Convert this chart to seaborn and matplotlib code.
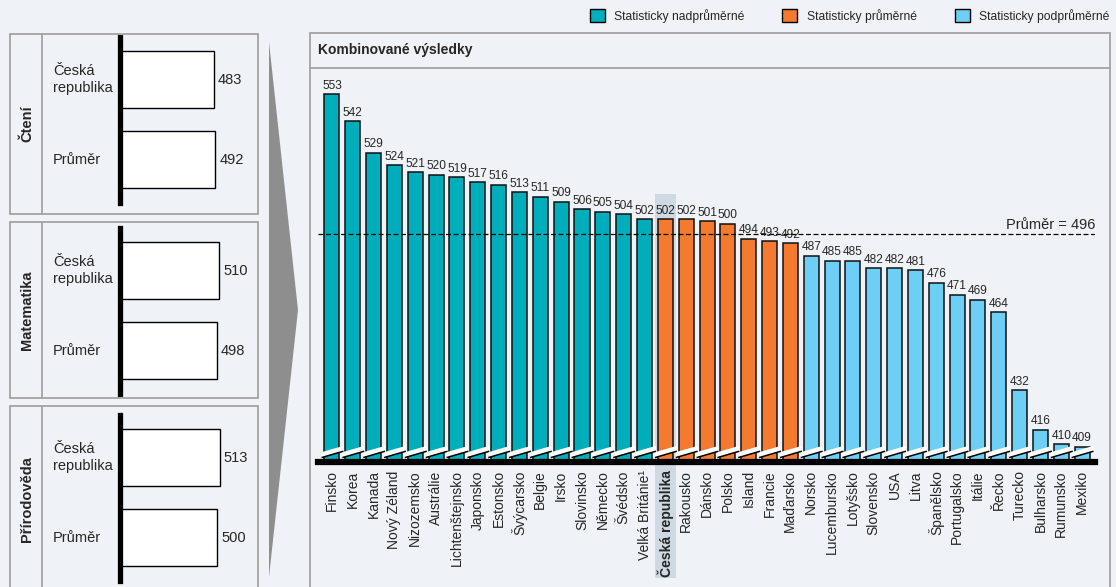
import pandas as pd
import matplotlib.pyplot as plt
import seaborn as sns
from matplotlib.patches import Rectangle, Polygon, Patch
from matplotlib.lines import Line2D

# Data
countries = ['Finsko', 'Korea', 'Kanada', 'Nový Zéland', 'Nizozemsko', 'Austrálie',
             'Lichtenštejnsko', 'Japonsko', 'Estonsko', 'Švýcarsko', 'Belgie', 'Irsko',
             'Slovinsko', 'Německo', 'Švédsko', 'Velká Británie\u00b9', 'Česká republika',
             'Rakousko', 'Dánsko', 'Polsko', 'Island', 'Francie', 'Maďarsko', 'Norsko',
             'Lucembursko', 'Lotyšsko', 'Slovensko', 'USA', 'Litva', 'Španělsko',
             'Portugalsko', 'Itálie', 'Řecko', 'Turecko', 'Bulharsko', 'Rumunsko', 'Mexiko']
scores = [553, 542, 529, 524, 521, 520, 519, 517, 516, 513, 511, 509, 506, 505, 504, 502,
          502, 502, 501, 500, 494, 493, 492, 487, 485, 485, 482, 482, 481, 476, 471, 469,
          464, 432, 416, 410, 409]
groups = ['Statisticky nadprůměrné'] * 16 + ['Statisticky průměrné'] * 7 + ['Statisticky podprůměrné'] * 14
oecd_mean = 496
highlight = 'Česká republika'

panel_names = ['Čtení', 'Matematika', 'Přírodověda']
panel_bars = ['Česká\nrepublika', 'Průměr']
cz_scores = [483, 510, 513]
avg_scores = [492, 498, 500]

palette = {'Statisticky nadprůměrné': '#00aebb',
           'Statisticky průměrné': '#f47a30',
           'Statisticky podprůměrné': '#6dcff6'}
bg = '#eff2f6'
frame = '#a3a3a3'

sns.set_theme(style='white')
plt.rcParams['font.family'] = ['Liberation Sans', 'DejaVu Sans']

W, H = 1116, 587
fig = plt.figure(figsize=(W / 100, H / 100), dpi=100, facecolor=bg)


def box(x0, y0, x1, y1):
    # pixel box -> figure fraction [left, bottom, width, height]
    return [x0 / W, 1 - y1 / H, (x1 - x0) / W, (y1 - y0) / H]


def frect(x0, y0, x1, y1, **kw):
    fig.patches.append(Rectangle((x0 / W, 1 - y1 / H), (x1 - x0) / W, (y1 - y0) / H,
                                 transform=fig.transFigure, **kw))


def fline(xs, ys, **kw):
    fig.lines.append(Line2D([x / W for x in xs], [1 - y / H for y in ys],
                            transform=fig.transFigure, **kw))


# ---- left panels ----
box_tops = [34, 222, 406]
box_bottoms = [214, 398, 600]
ax_tops = [37, 228, 415]
for k in range(3):
    frect(10, box_tops[k], 258, box_bottoms[k], facecolor='none', edgecolor=frame, lw=1.3)
    fline([42, 42], [box_tops[k], box_bottoms[k]], color=frame, lw=1.3)
    fig.text(27 / W, 1 - ((box_tops[k] + min(box_bottoms[k], 592)) / 2) / H, panel_names[k],
             rotation=90, ha='center', va='center', fontsize=10.5, fontweight='bold')

    pax = fig.add_axes(box(120, ax_tops[k], 258, ax_tops[k] + 166))
    pdf = pd.DataFrame({'label': panel_bars, 'score': [cz_scores[k], avg_scores[k]]})
    sns.barplot(data=pdf, x='score', y='label', orient='h', color='white',
                edgecolor='black', linewidth=1, width=0.71, saturation=1, ax=pax)
    pax.set_xlim(0, 711)
    pax.set_ylim(1.54, -0.53)
    pax.set_facecolor('none')
    pax.set_xlabel('')
    pax.set_ylabel('')
    pax.set_xticks([])
    pax.set_yticks([])
    for s in ['top', 'right', 'bottom']:
        pax.spines[s].set_visible(False)
    pax.spines['left'].set_linewidth(3.8)
    pax.spines['left'].set_color('black')
    for j, v in enumerate(pdf['score']):
        pax.text(v + 22, j, str(v), va='center', ha='left', fontsize=10.5)
        pax.text(-0.485, j, panel_bars[j], transform=pax.get_yaxis_transform(),
                 va='center', ha='left', fontsize=10.5, linespacing=1.25)

# chevron
fig.patches.append(Polygon([(269 / W, 1 - 42 / H), (298 / W, 1 - 310 / H), (269 / W, 1 - 577 / H)],
                           closed=True, transform=fig.transFigure, facecolor='#8e8e8e',
                           edgecolor='none'))

# ---- main panel ----
frect(310, 33, 1110, 620, facecolor='none', edgecolor=frame, lw=1.3)
fline([310, 1110], [68, 68], color=frame, lw=1.3)
fig.text(318 / W, 1 - 50 / H, 'Kombinované výsledky', fontsize=10, fontweight='bold',
         ha='left', va='center')

ax = fig.add_axes(box(318, 70, 1095, 462))
df = pd.DataFrame({'country': countries, 'score': scores, 'group': groups})
sns.barplot(data=df, x='country', y='score', hue='group', palette=palette, order=countries,
            dodge=False, width=0.72, edgecolor='#111111', linewidth=1.1, saturation=1,
            legend=False, ax=ax)
ylo, yhi = 402.8, 562.8
ax.set_ylim(ylo, yhi)
ax.set_xlim(-0.67, len(countries) - 1 + 0.62)
ax.set_facecolor('none')
ax.set_xlabel('')
ax.set_ylabel('')
ax.set_yticks([])
for s in ['top', 'right', 'left']:
    ax.spines[s].set_visible(False)
ax.spines['bottom'].set_linewidth(4.5)
ax.spines['bottom'].set_color('black')
ax.spines['bottom'].set_zorder(5)
ax.tick_params(axis='x', length=0, pad=6, labelsize=10, labelrotation=90)
for lab in ax.get_xticklabels():
    if lab.get_text() == highlight:
        lab.set_fontweight('bold')

# highlight behind Czech Republic
ci = countries.index(highlight)
ax.axvspan(ci - 0.52, ci + 0.52, ymin=-0.296, ymax=(scores[ci] + 10 - ylo) / (yhi - ylo),
           color='#cfd9e2', clip_on=False, zorder=0, lw=0)

# value labels and axis-break stripes
for i, v in enumerate(scores):
    ax.text(i, v + 1.0, str(v), ha='center', va='bottom', fontsize=8.6)
    ax.add_patch(Polygon([(i - 0.5, 404.6), (i + 0.55, 407.2), (i + 0.55, 409.4), (i - 0.5, 406.8)],
                         closed=True, facecolor='white', edgecolor='none', zorder=3))
    ax.plot([i - 0.5, i + 0.55], [404.6, 407.2], color='black', lw=1.1, zorder=4,
            solid_capstyle='butt')

ax.axhline(oecd_mean, color='black', lw=0.9, ls=(0, (4, 2)), zorder=1)
ax.text(1.0, oecd_mean + 0.8, f'Průměr = {oecd_mean}', transform=ax.get_yaxis_transform(),
        ha='right', va='bottom', fontsize=10.5)

# legend
handles = [Patch(facecolor=palette[g], edgecolor='black', lw=1) for g in palette]
fig.legend(handles, list(palette), loc='upper right', bbox_to_anchor=(1114 / W, 1 - 4 / H),
           ncol=3, frameon=False, fontsize=8.7, handlelength=1.25, handleheight=1.25,
           handletextpad=0.75, columnspacing=3.15, borderaxespad=0)

fig.savefig('out.png', dpi=100, facecolor=bg)
